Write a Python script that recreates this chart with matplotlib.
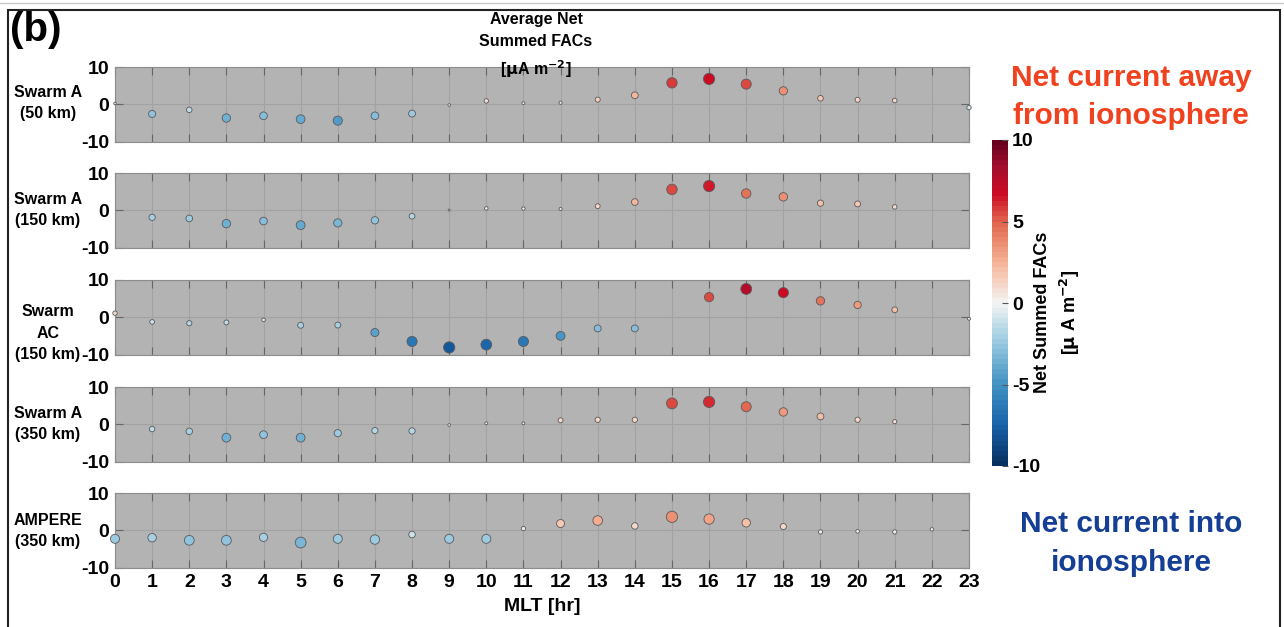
import numpy as np
import matplotlib.pyplot as plt
from matplotlib.colors import LinearSegmentedColormap, Normalize
from matplotlib.patches import Rectangle

plt.rcParams['font.family'] = ['Liberation Sans', 'DejaVu Sans']
plt.rcParams['font.weight'] = 'bold'
plt.rcParams['mathtext.default'] = 'bf'
plt.rcParams['axes.unicode_minus'] = False

nan = np.nan
mlt = np.arange(24)

# average net summed FACs per MLT hour [uA m^-2]
swarm_a_50 = [0.2, -2.6, -1.5, -3.7, -3.1, -4.0, -4.4, -3.1, -2.5, -0.2, 0.9, 0.3,
              0.4, 1.25, 2.4, 5.75, 6.8, 5.4, 3.6, 1.6, 1.2, 1.0, nan, -0.9]
swarm_a_150 = [nan, -1.9, -2.2, -3.6, -2.9, -4.0, -3.4, -2.7, -1.6, 0.05, 0.5, 0.45,
               0.35, 1.1, 2.2, 5.6, 6.5, 4.5, 3.6, 1.9, 1.7, 0.9, nan, nan]
swarm_ac_150 = [1.1, -1.25, -1.6, -1.4, -0.7, -2.15, -2.1, -4.1, -6.5, -8.1, -7.35, -6.5,
                -5.0, -3.0, -3.0, nan, 5.4, 7.6, 6.6, 4.4, 3.3, 2.0, nan, -0.4]
swarm_a_350 = [nan, -1.3, -1.9, -3.6, -2.8, -3.6, -2.4, -1.7, -1.8, -0.2, 0.25, 0.25,
               1.05, 1.2, 1.2, 5.6, 6.0, 4.7, 3.3, 2.1, 1.2, 0.7, nan, nan]
ampere_350 = [-2.3, -2.0, -2.7, -2.7, -1.9, -3.3, -2.3, -2.5, -1.15, -2.3, -2.3, 0.45,
              1.8, 2.6, 1.15, 3.6, 3.0, 2.0, 1.0, -0.45, -0.3, -0.45, 0.25, nan]

series = [swarm_a_50, swarm_a_150, swarm_ac_150, swarm_a_350, ampere_350]
row_labels = ['Swarm A\n(50 km)', 'Swarm A\n(150 km)', 'Swarm\nAC\n(150 km)',
              'Swarm A\n(350 km)', 'AMPERE\n(350 km)']

# red-blue diverging map, banded like the MATLAB colormap
cmap = LinearSegmentedColormap.from_list('netfac', [
    (0.0, '#053061'), (0.125, '#1a65ab'), (0.25, '#4393c3'), (0.375, '#97c8e0'),
    (0.5, '#f5f5f5'), (0.625, '#f6b396'), (0.75, '#e0674d'), (0.84, '#cc0a24'),
    (0.92, '#a50e2d'), (1.0, '#67001f')], N=64)
norm = Normalize(-10, 10)

fig = plt.figure(figsize=(12.84, 6.27), dpi=100)
W, H = 1284.0, 627.0

def fx(px):
    return px / W

def fy(py):
    return 1 - py / H

panel_tops = [67, 173, 280, 387, 493]
label_y = [103, 210, 333, 424, 531]
panel_h = 74.5
x0, x1 = 115, 969

for i, (vals, lab) in enumerate(zip(series, row_labels)):
    top = panel_tops[i]
    ax = fig.add_axes([fx(x0), fy(top + panel_h), fx(x1 - x0), panel_h / H])
    ax.set_facecolor('#b3b3b3')
    v = np.array(vals, dtype=float)
    # marker area scaled by |value| relative to the panel maximum
    s = 64 * np.abs(v) / np.nanmax(np.abs(v)) + 1.5
    ax.scatter(mlt, v, s=s, c=v, cmap=cmap, norm=norm, edgecolors='#5a5a5a',
               linewidths=0.6, zorder=3, clip_on=False)
    ax.set_xlim(0, 23)
    ax.set_ylim(-10, 10)
    ax.set_xticks(mlt)
    ax.set_yticks([-10, 0, 10])
    ax.grid(True, color='#a2a2a2', lw=0.8)
    ax.set_axisbelow(True)
    ax.tick_params(direction='in', length=6, width=0.8, color='#666666',
                   top=True, right=True, labelsize=14)
    ax.tick_params(axis='y', pad=4)
    ax.tick_params(axis='x', pad=5)
    for sp in ax.spines.values():
        sp.set_color('#8c8c8c')
        sp.set_linewidth(0.8)
    for t in ax.get_yticklabels():
        t.set_fontweight('bold')
    if i < 4:
        ax.set_xticklabels([])
    else:
        for t in ax.get_xticklabels():
            t.set_fontweight('bold')
        ax.set_xlabel('MLT [hr]', fontsize=14, fontweight='bold', labelpad=5)
    fig.text(fx(48), fy(label_y[i]), lab, ha='center', va='center',
             fontsize=11.5, fontweight='bold', linespacing=1.5)

fig.text(fx(536), fy(46), 'Average Net\nSummed FACs\n[$\\mu$A m$^{-2}$]',
         ha='center', va='center', fontsize=11.5, fontweight='bold', linespacing=1.55)
fig.text(fx(10), fy(30), '(b)', ha='left', va='center', fontsize=29, fontweight='bold')

# colour bar
cax = fig.add_axes([fx(992), fy(466), fx(16), 326 / H])
sm = plt.cm.ScalarMappable(cmap=cmap, norm=norm)
cb = fig.colorbar(sm, cax=cax, ticks=[-10, -5, 0, 5, 10])
cb.outline.set_visible(False)
cax.tick_params(direction='in', length=4, width=0.8, color='#555555', labelsize=14, pad=3)
for t in cax.get_yticklabels():
    t.set_fontweight('bold')
fig.text(fx(1058), fy(312), 'Net Summed FACs\n[$\\mu$ A m$^{-2}$]', rotation=90,
         ha='center', va='center', fontsize=13, fontweight='bold', linespacing=1.4)

fig.text(fx(1131), fy(97), 'Net current away\nfrom ionosphere', ha='center', va='center',
         fontsize=21.5, fontweight='bold', color='#f0421f', linespacing=1.5)
fig.text(fx(1131), fy(543.5), 'Net current into\nionosphere', ha='center', va='center',
         fontsize=21.5, fontweight='bold', color='#153e95', linespacing=1.5)

# frame around the panel
fig.patches.append(Rectangle((fx(8), -0.02), fx(1272), fy(10) + 0.02, transform=fig.transFigure,
                             fill=False, edgecolor='#222222', lw=1.5))
fig.add_artist(plt.Line2D([0, 1], [fy(3), fy(3)], color='#c8c8c8', lw=1))

fig.savefig('out.png', dpi=100)
